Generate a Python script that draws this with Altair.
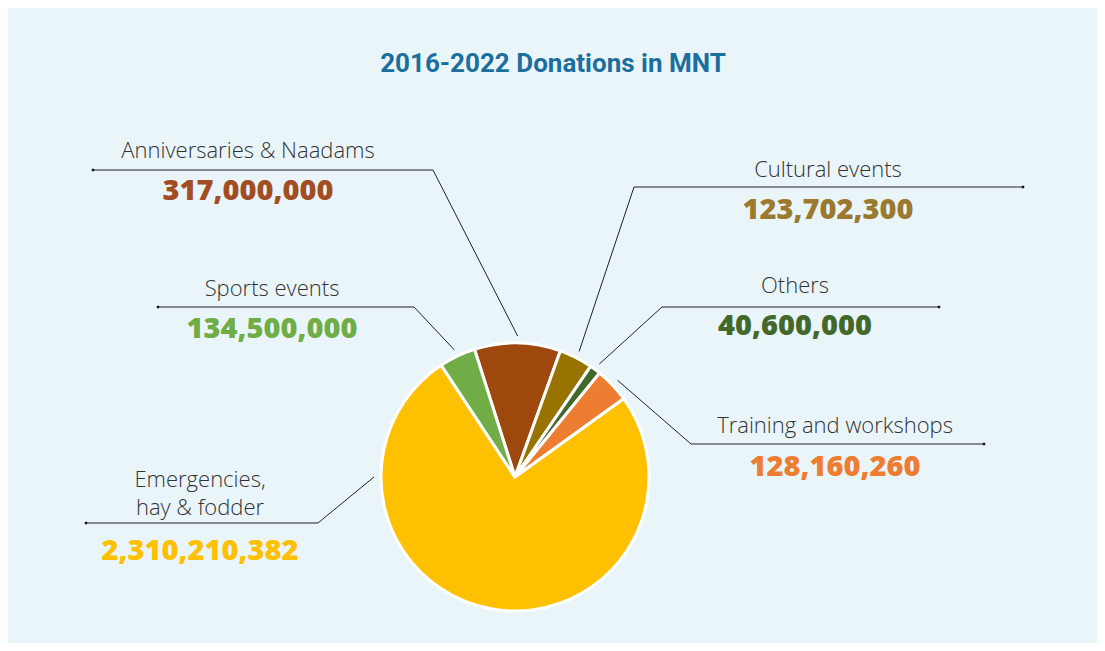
import math
import altair as alt
import pandas as pd

# ---------------- data ----------------
categories = ["Anniversaries & Naadams", "Cultural events", "Others",
              "Training and workshops", "Emergencies, hay & fodder", "Sports events"]
values = [317000000, 123702300, 40600000, 128160260, 2310210382, 134500000]
value_labels = ["317,000,000", "123,702,300", "40,600,000", "128,160,260",
                "2,310,210,382", "134,500,000"]
name_lines = [["Anniversaries & Naadams"], ["Cultural events"], ["Others"],
              ["Training and workshops"], ["Emergencies,", "hay & fodder"], ["Sports events"]]
title_text = "2016-2022 Donations in MNT"

# ---------------- styles ----------------
slice_colors = ["#9E480E", "#997300", "#43682B", "#ED7D31", "#FFC000", "#70AD47"]
number_colors = ["#A34D24", "#9B7A2F", "#43682B", "#ED7D31", "#FFC000", "#70AD47"]
BG = "#EAF5FA"

# ---------------- layout (chart pixel coords) ----------------
W, H = 1089, 635
OFF = 8
CX, CY, R = 515 - OFF, 477 - OFF, 134
START = math.radians(-17.6) + 2 * math.pi
name_x = [248, 828, 795, 835, 200, 272]
name_y = [158, 177, 293, 433, 487, 296]
num_y = [200, 219, 335, 476, 560, 338]
line_y = [170, 187, 307, 444, 523, 307]
line_outer = [93, 1023, 939, 984, 86, 158]
line_elbow = [433, 634, 662, 691, 318, 414]
anchor_override = {4: -90.0}
anchor_dist = R + 7
line_height = 28

total = sum(values)
pie_df = pd.DataFrame({
    "category": categories,
    "value": values,
    "order": list(range(len(values))),
    "color": slice_colors,
})

# leader lines: outer end -> elbow -> pie edge
rows = []
ends = []
cum = 0.0
for i, v in enumerate(values):
    mid = START + 2 * math.pi * (cum + v / 2) / total
    cum += v
    if i in anchor_override:
        mid = math.radians(anchor_override[i])
    ax = CX + anchor_dist * math.sin(mid)
    ay = CY - anchor_dist * math.cos(mid)
    pts = [(line_outer[i] - OFF, line_y[i] - OFF),
           (line_elbow[i] - OFF, line_y[i] - OFF),
           (ax, ay)]
    for s, (px, py) in enumerate(pts):
        rows.append({"label": categories[i], "seq": s, "x": px, "y": py})
    ends.append({"x": pts[0][0], "y": pts[0][1]})
lines_df = pd.DataFrame(rows)
ends_df = pd.DataFrame(ends)

name_rows = []
for i, lines in enumerate(name_lines):
    for k, t in enumerate(lines):
        name_rows.append({"text": t, "x": name_x[i] - OFF,
                          "y": name_y[i] - OFF + k * line_height})
names_df = pd.DataFrame(name_rows)

nums_df = pd.DataFrame({
    "text": value_labels,
    "x": [x - OFF for x in name_x],
    "y": [y - OFF for y in num_y],
    "color": number_colors,
})

title_df = pd.DataFrame({"text": [title_text], "x": [553 - OFF], "y": [72 - OFF]})

xs = alt.Scale(domain=[0, W], range=[0, W])
ys = alt.Scale(domain=[0, H], range=[0, H])

pie = alt.Chart(pie_df).mark_arc(radius=R, stroke="white", strokeWidth=3).encode(
    theta=alt.Theta("value:Q", stack=True,
                    scale=alt.Scale(range=[START, START + 2 * math.pi])),
    color=alt.Color("color:N", scale=None),
    order=alt.Order("order:Q"),
    x=alt.value(CX),
    y=alt.value(CY),
)

leaders = alt.Chart(lines_df).mark_line(color="#222222", strokeWidth=1).encode(
    x=alt.X("x:Q", scale=xs, axis=None),
    y=alt.Y("y:Q", scale=ys, axis=None),
    detail="label:N",
    order="seq:Q",
)

end_marks = alt.Chart(ends_df).mark_square(size=6, color="#111111", opacity=1).encode(
    x=alt.X("x:Q", scale=xs, axis=None),
    y=alt.Y("y:Q", scale=ys, axis=None),
)

names = alt.Chart(names_df).mark_text(
    font="Open Sans", fontSize=22, fontWeight=300, color="#333333",
    align="center", baseline="alphabetic",
).encode(
    x=alt.X("x:Q", scale=xs, axis=None),
    y=alt.Y("y:Q", scale=ys, axis=None),
    text="text:N",
)

nums = alt.Chart(nums_df).mark_text(
    font="Open Sans", fontSize=29, fontWeight=800,
    align="center", baseline="alphabetic",
).encode(
    x=alt.X("x:Q", scale=xs, axis=None),
    y=alt.Y("y:Q", scale=ys, axis=None),
    text="text:N",
    color=alt.Color("color:N", scale=None),
)

title = alt.Chart(title_df).mark_text(
    font="Roboto", fontSize=26, fontWeight="bold", color="#1B6E9E",
    align="center", baseline="alphabetic",
).encode(
    x=alt.X("x:Q", scale=xs, axis=None),
    y=alt.Y("y:Q", scale=ys, axis=None),
    text="text:N",
)

chart = alt.layer(leaders, end_marks, pie, names, nums, title).properties(
    width=W, height=H, background=BG, padding=0,
    autosize=alt.AutoSizeParams(type="fit", contains="padding"),
).configure_view(stroke=None)

chart.save("out.html", embed_options={"renderer": "svg", "actions": False})
